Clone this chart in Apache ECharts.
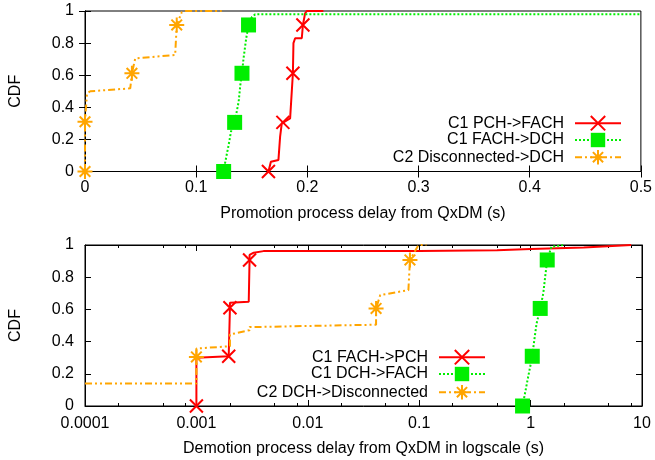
<!DOCTYPE html>
<html><head><meta charset="utf-8">
<script src="https://cdn.jsdelivr.net/npm/echarts@6/dist/echarts.min.js"></script>
<style>html,body{margin:0;padding:0;background:#fff}#c{width:655px;height:460px}</style>
</head><body><div id="c"></div>
<script>
// ---- tick values / labels ----
const topXTicks = [0, 0.1, 0.2, 0.3, 0.4, 0.5];
const cdfTicks = [0, 0.2, 0.4, 0.6, 0.8, 1];
const logMajorLabels = ['0.0001', '0.001', '0.01', '0.1', '1', '10'];
const logMinorTicks = [2e-4, 5e-4, 8e-4, 2e-3, 5e-3, 8e-3, 2e-2, 5e-2, 8e-2, 0.2, 0.5, 0.8, 2, 5, 8];

// ---- promotion (top) ----
const promoNames = ['C1 PCH->FACH', 'C1 FACH->DCH', 'C2 Disconnected->DCH'];
const promoPchFachX = [0.165, 0.1672, 0.174, 0.1755, 0.1755, 0.177, 0.178, 0.1845, 0.187, 0.1875, 0.189, 0.195, 0.196, 0.198, 0.1995, 0.2144];
const promoPchFachY = [0, 0.061, 0.072, 0.082, 0.217, 0.30, 0.306, 0.331, 0.612, 0.80, 0.83, 0.83, 0.913, 0.986, 1.0, 1.0];
const promoPchFachMarks = [0, 6, 8, 12];

const promoFachDchX = [0.1247, 0.1262, 0.1292, 0.1313, 0.1346, 0.1382, 0.1397, 0.1412, 0.1426, 0.145, 0.1471, 0.1502, 0.1531, 0.5];
const promoFachDchY = [0, 0.061, 0.165, 0.248, 0.306, 0.435, 0.539, 0.612, 0.705, 0.83, 0.913, 0.964, 0.979, 0.979];
const promoFachDchMarks = [0, 4, 7, 10];

const promoDiscDchX = [0, 0, 0.0018, 0.0048, 0.0407, 0.0422, 0.0452, 0.0811, 0.0825, 0.087, 0.09, 0.123];
const promoDiscDchY = [0, 0.31, 0.487, 0.50, 0.518, 0.612, 0.705, 0.726, 0.913, 0.992, 1.0, 1.0];
const promoDiscDchMarks = [0, 1, 5, 8];

// ---- demotion (bottom) ----
const demoNames = ['C1 FACH->PCH', 'C1 DCH->FACH', 'C2 DCH->Disconnected'];
const demoFachPchX = [0.001, 0.001, 0.00195, 0.002, 0.002, 0.00295, 0.003, 0.003, 0.00327, 0.004, 0.1, 0.5, 1, 3, 8];
const demoFachPchY = [0, 0.299, 0.309, 0.61, 0.641, 0.647, 0.907, 0.938, 0.952, 0.962, 0.963, 0.968, 0.975, 0.985, 1.0];
const demoFachPchMarks = [0, 2, 3, 6];

const demoDchFachX = [0.847, 0.89, 0.95, 1.035, 1.07, 1.13, 1.22, 1.30, 1.35, 1.41, 1.54, 2.0];
const demoDchFachY = [0, 0.077, 0.18, 0.309, 0.39, 0.51, 0.606, 0.70, 0.80, 0.907, 0.99, 1.0];
const demoDchFachMarks = [0, 3, 6, 9];

const demoDchDiscX = [0.0001, 0.001, 0.001, 0.001, 0.002, 0.002, 0.003, 0.003, 0.041, 0.041, 0.0447, 0.080, 0.0826, 0.0985, 0.116];
const demoDchDiscY = [0.139, 0.139, 0.305, 0.357, 0.371, 0.444, 0.471, 0.49, 0.505, 0.606, 0.689, 0.72, 0.907, 1.0, 1.0];
const demoDchDiscMarks = [2, 9, 12];

// ---- styling ----
const FONT = 'Liberation Sans';
const RED = '#ff0000', GREEN = '#00ee00', ORANGE = '#ffa500';
const X_SYM = 'path://M0,0L10,10M10,0L0,10';
const STAR_SYM = 'path://M5,0L5,10M0,5L10,5M1.46,1.46L8.54,8.54M8.54,1.46L1.46,8.54';

function mk(xs, ys, marks) {
  return xs.map((x, i) => marks.indexOf(i) >= 0 ? { value: [x, ys[i]] } : { value: [x, ys[i]], symbol: 'none' });
}

const styles = [
  { color: RED, lineType: 'solid', symbol: X_SYM, size: 13, bw: 2 },
  { color: GREEN, lineType: [2, 2], symbol: 'rect', size: 15, bw: 0 },
  { color: ORANGE, lineType: [7, 3, 2, 3, 2, 3], symbol: STAR_SYM, size: 15, bw: 2 }
];

function series(name, idx, data, xi, yi) {
  const s = styles[idx];
  return {
    name: name, type: 'line', xAxisIndex: xi, yAxisIndex: yi, data: data,
    symbol: s.symbol, symbolSize: s.size, showSymbol: true, showAllSymbol: true,
    lineStyle: { color: s.color, width: 2, type: s.lineType },
    itemStyle: { color: s.color, borderColor: s.color, borderWidth: s.bw },
    emphasis: { disabled: true }, animation: false, z: 3 + idx
  };
}

const tickStyle = { color: '#000', width: 1 };
const lblStyle = { fontSize: 16, color: '#000', fontFamily: FONT };

function xAx(grid, opts) {
  return Object.assign({
    gridIndex: grid, splitLine: { show: false },
    axisLine: { show: true, lineStyle: { color: '#000' } },
    axisTick: { show: true, inside: true, length: 6, lineStyle: tickStyle },
    axisLabel: Object.assign({ margin: 8 }, lblStyle),
    nameTextStyle: lblStyle
  }, opts);
}

const logFmt = v => logMajorLabels[Math.round(Math.log10(v)) + 4];

const option = {
  backgroundColor: '#fff',
  animation: false,
  textStyle: { fontFamily: FONT },
  grid: [
    { left: 84, right: 13, top: 11, height: 160.5, show: true, borderColor: '#000', borderWidth: 1, backgroundColor: 'transparent' },
    { left: 84, right: 13, top: 245, height: 161, show: true, borderColor: '#000', borderWidth: 1, backgroundColor: 'transparent' }
  ],
  xAxis: [
    xAx(0, { type: 'value', min: topXTicks[0], max: topXTicks[topXTicks.length - 1], interval: 0.1, position: 'bottom',
      name: 'Promotion process delay from QxDM (s)', nameLocation: 'middle', nameGap: 34 }),
    xAx(0, { type: 'value', min: topXTicks[0], max: topXTicks[topXTicks.length - 1], interval: 0.1, position: 'top',
      axisLabel: { show: false } }),
    xAx(1, { type: 'log', logBase: 10, min: 0.0001, max: 10, position: 'bottom',
      axisLabel: Object.assign({ margin: 10, formatter: logFmt }, lblStyle),
      name: 'Demotion process delay from QxDM in logscale (s)', nameLocation: 'middle', nameGap: 35 }),
    xAx(1, { type: 'log', logBase: 10, min: 0.0001, max: 10, position: 'bottom', axisLine: { show: false },
      axisTick: { show: true, inside: true, length: 3, lineStyle: tickStyle, customValues: logMinorTicks },
      axisLabel: { show: false } }),
    xAx(1, { type: 'log', logBase: 10, min: 0.0001, max: 10, position: 'top', axisLabel: { show: false } }),
    xAx(1, { type: 'log', logBase: 10, min: 0.0001, max: 10, position: 'top', axisLine: { show: false },
      axisTick: { show: true, inside: true, length: 3, lineStyle: tickStyle, customValues: logMinorTicks },
      axisLabel: { show: false } })
  ],
  yAxis: [0, 1].flatMap(g => [
    {
      gridIndex: g, type: 'value', min: cdfTicks[0], max: cdfTicks[cdfTicks.length - 1], interval: 0.2, position: 'left',
      splitLine: { show: false }, axisLine: { show: true, lineStyle: { color: '#000' } },
      axisTick: { show: true, inside: true, length: 6, lineStyle: tickStyle },
      axisLabel: Object.assign({ margin: 11 }, lblStyle),
      name: 'CDF', nameLocation: 'middle', nameGap: 61, nameTextStyle: lblStyle
    },
    {
      gridIndex: g, type: 'value', min: cdfTicks[0], max: cdfTicks[cdfTicks.length - 1], interval: 0.2, position: 'right',
      splitLine: { show: false }, axisLine: { show: true, lineStyle: { color: '#000' } },
      axisTick: { show: true, inside: true, length: 6, lineStyle: tickStyle },
      axisLabel: { show: false }
    }
  ]),
  legend: [
    [promoNames[0], 33, 115], [promoNames[1], 33, 132], [promoNames[2], 33, 149],
    [demoNames[0], 169, 349], [demoNames[1], 169, 366], [demoNames[2], 169, 384]
  ].map(([n, r, t]) => ({
    data: [n], right: r, top: t, orient: 'vertical', align: 'right', padding: 0,
    itemWidth: 46, itemHeight: 18, selectedMode: false,
    textStyle: { fontSize: 16, color: '#000', fontFamily: FONT, padding: [0, 6, 0, 0] }
  })),
  series: [
    series(promoNames[0], 0, mk(promoPchFachX, promoPchFachY, promoPchFachMarks), 0, 0),
    series(promoNames[1], 1, mk(promoFachDchX, promoFachDchY, promoFachDchMarks), 0, 0),
    series(promoNames[2], 2, mk(promoDiscDchX, promoDiscDchY, promoDiscDchMarks), 0, 0),
    series(demoNames[0], 0, mk(demoFachPchX, demoFachPchY, demoFachPchMarks), 2, 2),
    series(demoNames[1], 1, mk(demoDchFachX, demoDchFachY, demoDchFachMarks), 2, 2),
    series(demoNames[2], 2, mk(demoDchDiscX, demoDchDiscY, demoDchDiscMarks), 2, 2)
  ]
};

const chart = echarts.init(document.getElementById('c'), null, { renderer: 'canvas' });
chart.setOption(option);
</script>
</body></html>
